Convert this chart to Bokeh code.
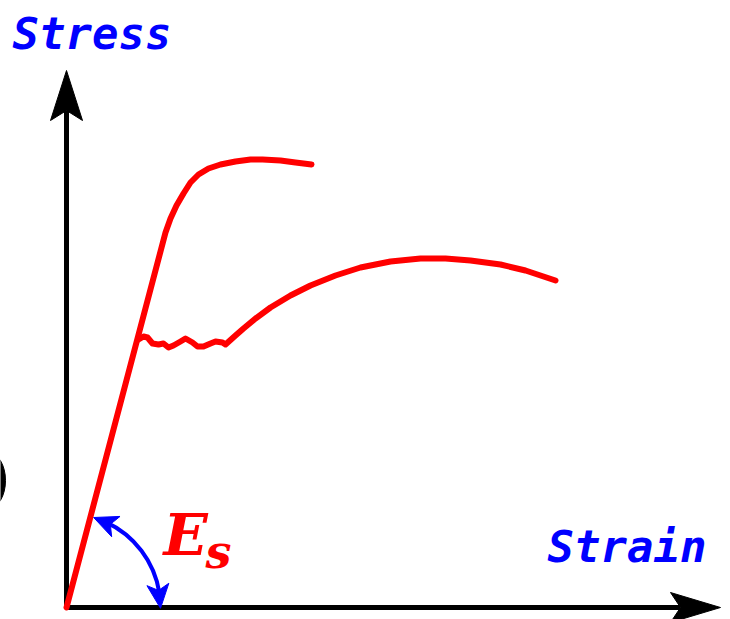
import numpy as np
from bokeh.plotting import figure
from bokeh.models import Range1d
from bokeh.core.properties import value
from bokeh.embed import file_html
from bokeh.resources import INLINE

# ---- data (strain, stress) in diagram units ----
upper_strain = [0, 99, 104, 110, 117, 124, 132, 142, 154, 169, 184, 196, 214, 229, 245]
upper_stress = [0, 375, 389, 402, 414, 425, 433, 439, 443, 446, 448, 448, 447, 445, 443]

lower_strain = [72, 77, 81, 86, 92, 97, 102, 107, 114, 119, 126, 131, 137, 144, 149, 156, 159,
                169, 177, 189, 204, 224, 244, 269, 294, 324, 354, 379, 404, 434, 459, 489]
lower_stress = [268, 271, 270, 264, 263, 264, 260, 262, 266, 269, 265, 261, 261, 264, 266, 265, 263,
                272, 279, 289, 300, 312, 322, 332, 340, 346, 349, 349, 347, 343, 337, 327]

axis_x_max = 654
axis_y_max = 537
arc_radius = 94

W, H = 730, 619
p = figure(width=W, height=H, output_backend="svg", toolbar_location=None,
           x_range=Range1d(-66, 664), y_range=Range1d(-12, 607),
           min_border=0, min_border_left=0, min_border_right=0,
           min_border_top=0, min_border_bottom=0)
p.axis.visible = False
p.grid.visible = False
p.outline_line_color = None
p.background_fill_color = "white"

# partial black mark at the left edge
p.ellipse(x=[-78], y=[127], width=34, height=56, color="black")


def head(tip, direction, length, half_width, notch, color):
    d = np.array(direction, dtype=float)
    d /= np.hypot(*d)
    n = np.array([-d[1], d[0]])
    t = np.array(tip, dtype=float)
    base = t - length * d
    pts = [t, base + half_width * n, t - (length - notch) * d, base - half_width * n]
    p.patch([q[0] for q in pts], [q[1] for q in pts], color=color, line_join="round", line_width=1)


# axes
p.line([0, axis_x_max - 40], [0, 0], line_color="black", line_width=5)
p.line([0, 0], [0, axis_y_max - 40], line_color="black", line_width=5)
head((axis_x_max, 0), (1, 0), 50, 15, 10, "black")
head((0, axis_y_max), (0, 1), 50, 16, 10, "black")

# red curves
p.line(upper_strain, upper_stress, line_color="red", line_width=6, line_join="round", line_cap="round")
p.line(lower_strain, lower_stress, line_color="red", line_width=6, line_join="round", line_cap="round")

# blue arc with arrow heads at both ends
theta_end = np.arctan2(upper_stress[1], upper_strain[1])
p.arc(x=0, y=0, radius=arc_radius, start_angle=np.radians(9), end_angle=theta_end - np.radians(10),
      line_color="blue", line_width=4)
t1 = theta_end - np.radians(2)
tip1 = (arc_radius * np.cos(t1), arc_radius * np.sin(t1))
ta = theta_end - np.radians(13)
head(tip1, (tip1[0] - arc_radius * np.cos(ta), tip1[1] - arc_radius * np.sin(ta)), 24, 11, 6, "blue")
t2 = np.radians(-0.5)
tip2 = (arc_radius * np.cos(t2), arc_radius * np.sin(t2))
tb = np.radians(13)
head(tip2, (tip2[0] - arc_radius * np.cos(tb), tip2[1] - arc_radius * np.sin(tb)), 24, 11, 6, "blue")

# labels
p.text(x=[-54], y=[574], text=["Stress"], text_color="blue", text_font=value("DejaVu Sans Mono"),
       text_font_style="bold italic", text_font_size="44px", text_baseline="middle")
p.text(x=[481], y=[61], text=["Strain"], text_color="blue", text_font=value("DejaVu Sans Mono"),
       text_font_style="bold italic", text_font_size="44px", text_baseline="middle")
p.text(x=[97], y=[73], text=["E"], text_color="red", text_font=value("DejaVu Serif"),
       text_font_style="bold italic", text_font_size="58px", text_baseline="middle")
p.text(x=[139], y=[56], text=["s"], text_color="red", text_font=value("DejaVu Serif"),
       text_font_style="bold italic", text_font_size="46px", text_baseline="middle")

open("out.html", "w").write(file_html(p, INLINE))
